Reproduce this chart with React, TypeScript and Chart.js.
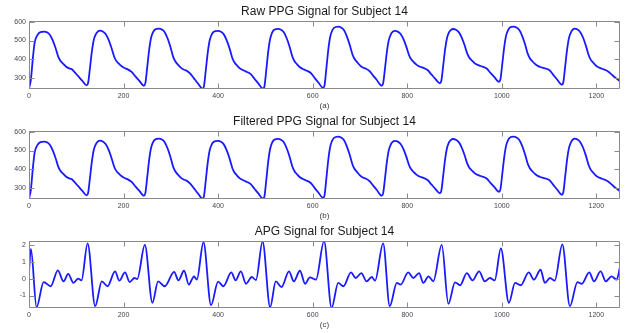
import React, { useEffect, useRef } from "react";
import { Chart, registerables } from "chart.js";

Chart.register(...registerables);

// ---------- data ----------
const ppgX = [
  0, 4, 8, 12, 18, 24, 32,
  38, 44, 50, 56, 62, 66, 72, 78, 84, 90, 96, 104, 112,
  122, 125, 129, 133, 137, 141, 145, 150,
  156, 162, 168, 174, 180, 184, 190, 196, 202, 208, 217, 225, 233,
  243, 246, 250, 254, 258, 262, 266, 275,
  281, 287, 293, 299, 305, 309, 315, 321, 327, 333, 341, 349, 357,
  367, 370, 374, 378, 382, 386, 390, 400,
  406, 412, 418, 424, 430, 434, 440, 446, 452, 458, 469, 477, 485,
  495, 498, 502, 506, 510, 514, 518, 527,
  533, 539, 545, 551, 557, 561, 567, 573, 579, 585, 596, 604, 612,
  622, 625, 629, 633, 637, 641, 645, 654,
  660, 666, 672, 678, 684, 688, 694, 700, 706, 712, 720, 728, 736,
  746, 749, 753, 757, 761, 765, 769, 774,
  780, 786, 792, 798, 804, 808, 814, 820, 826, 832, 843, 851, 859,
  869, 872, 876, 880, 884, 888, 892, 897,
  903, 909, 915, 921, 927, 931, 937, 943, 949, 955, 968, 976, 984,
  994, 997, 1001, 1005, 1009, 1013, 1017, 1025,
  1031, 1037, 1043, 1049, 1055, 1059, 1065, 1071, 1077, 1083, 1101, 1109, 1117,
  1127, 1130, 1134, 1138, 1142, 1146, 1150, 1154,
  1160, 1166, 1172, 1178, 1184, 1188, 1194, 1200, 1206, 1212, 1224, 1232, 1240, 1250,
];

const rawPpgY = [
  240, 290, 400, 490, 530, 545, 548,
  544, 531, 502, 461, 412, 392, 375, 360, 351, 346, 331, 308, 285,
  259, 271, 353, 441, 503, 532, 547, 553,
  549, 535, 506, 464, 414, 393, 375, 361, 352, 346, 331, 307, 284,
  257, 269, 355, 447, 512, 543, 558, 564,
  559, 545, 512, 467, 412, 390, 370, 354, 344, 338, 322, 296, 270,
  241, 253, 341, 434, 499, 530, 546, 552,
  547, 533, 502, 459, 406, 384, 365, 350, 341, 334, 319, 294, 269,
  241, 254, 344, 441, 508, 541, 557, 563,
  558, 544, 512, 468, 414, 391, 372, 356, 347, 340, 325, 299, 274,
  245, 258, 351, 450, 519, 552, 568, 575,
  570, 556, 524, 480, 426, 403, 384, 366, 355, 349, 336, 311, 286,
  257, 269, 351, 440, 502, 531, 546, 552,
  548, 535, 507, 467, 420, 400, 383, 369, 360, 355, 341, 318, 295,
  270, 282, 363, 451, 512, 542, 556, 562,
  558, 545, 517, 477, 429, 409, 392, 377, 369, 363, 349, 326, 304,
  278, 290, 373, 462, 525, 554, 569, 575,
  570, 556, 525, 481, 428, 406, 387, 372, 362, 356, 340, 315, 290,
  262, 274, 359, 449, 513, 543, 558, 564,
  559, 545, 515, 471, 419, 397, 379, 363, 354, 348, 335, 318, 300, 281,
];

const filteredPpgY = [
  240, 290, 400, 490, 530, 545, 548,
  544, 531, 502, 461, 412, 392, 375, 360, 351, 346, 331, 308, 285,
  259, 271, 353, 441, 503, 532, 547, 553,
  549, 535, 506, 464, 414, 393, 375, 361, 352, 346, 331, 307, 284,
  257, 269, 355, 447, 512, 543, 558, 564,
  559, 545, 512, 467, 412, 390, 370, 354, 344, 338, 322, 296, 270,
  241, 253, 341, 434, 499, 530, 546, 552,
  547, 533, 502, 459, 406, 384, 365, 350, 341, 334, 319, 294, 269,
  241, 254, 344, 441, 508, 541, 557, 563,
  558, 544, 512, 468, 414, 391, 372, 356, 347, 340, 325, 299, 274,
  245, 258, 351, 450, 519, 552, 568, 575,
  570, 556, 524, 480, 426, 403, 384, 366, 355, 349, 336, 311, 286,
  257, 269, 351, 440, 502, 531, 546, 552,
  548, 535, 507, 467, 420, 400, 383, 369, 360, 355, 341, 318, 295,
  270, 282, 363, 451, 512, 542, 556, 562,
  558, 545, 517, 477, 429, 409, 392, 377, 369, 363, 349, 326, 304,
  278, 290, 373, 462, 525, 554, 569, 575,
  570, 556, 525, 481, 428, 406, 387, 372, 362, 356, 340, 315, 290,
  262, 274, 359, 449, 513, 543, 558, 564,
  559, 545, 515, 471, 419, 397, 379, 363, 354, 348, 335, 318, 300, 281,
];

const apgX = [
  0, 4, 16, 31, 46, 61, 73, 83, 94, 104, 111,
  124, 140, 154, 166, 182, 191, 203, 213, 223, 229,
  245, 261, 273, 287, 307, 316, 328, 338, 349, 355,
  369, 385, 400, 411, 428, 437, 448, 459, 471, 480,
  494, 510, 522, 534, 550, 560, 573, 584, 594, 607,
  624, 640, 654, 665, 681, 691, 703, 714, 725, 732,
  749, 763, 778, 786, 802, 813, 825, 834, 845, 855,
  873, 887, 901, 912, 926, 938, 952, 964, 975, 985,
  998, 1015, 1028, 1040, 1057, 1068, 1082, 1091, 1102, 1112,
  1128, 1144, 1160, 1169, 1185, 1195, 1209, 1220, 1232, 1243, 1250,
];

const apgY = [
  0.4, 1.76, -1.69, -0.2, -0.45, 0.49, -0.16, 0.29, -0.25, 0.0, -0.1,
  2.1, -1.63, -0.16, -0.45, 0.43, -0.12, 0.37, -0.2, 0.04, -0.02,
  2.0, -1.43, -0.16, -0.45, 0.4, -0.1, 0.47, -0.35, 0.14, -0.06,
  2.16, -1.57, -0.17, -0.45, 0.37, -0.1, 0.43, -0.3, 0.1, -0.08,
  2.2, -1.69, -0.16, -0.5, 0.43, -0.16, 0.47, -0.3, 0.08, -0.06,
  2.23, -1.73, -0.25, -0.45, 0.37, 0.04, 0.33, -0.16, 0.1, -0.12,
  2.1, -1.63, -0.25, -0.35, 0.37, 0.04, 0.33, -0.25, 0.14, -0.16,
  2.0, -1.49, -0.22, -0.39, 0.33, -0.1, 0.43, -0.16, 0.04, -0.1,
  1.8, -1.43, -0.25, -0.39, 0.37, -0.06, 0.53, -0.25, 0.04, -0.12,
  2.04, -1.63, -0.2, -0.31, 0.37, -0.16, 0.43, -0.16, 0.14, -0.06, 0.7,
];

const xTicks = [0, 200, 400, 600, 800, 1000, 1200];
const ppgTicks = [300, 400, 500, 600];
const apgTicks = [-1, 0, 1, 2];

const titles = [
  "Raw PPG Signal for Subject 14",
  "Filtered PPG Signal for Subject 14",
  "APG Signal for Subject 14",
];
const captions = ["(a)", "(b)", "(c)"];

// ---------- styling ----------
const FONT = "'Liberation Sans', Arial, Helvetica, sans-serif";
const LINE_COLOR = "#1a1aff";
const BOX_COLOR = "#8a8a8a";
const TICK_TEXT = "#45454f";

const boxPlugin = {
  id: "matlabBox",
  afterDatasetsDraw(chart: any) {
    const { ctx, chartArea: a, scales } = chart;
    const L = Math.round(a.left) + 0.5;
    const R = Math.round(a.right) - 0.5;
    const T = Math.round(a.top) + 0.5;
    const B = Math.round(a.bottom) - 0.5;
    ctx.save();
    ctx.strokeStyle = BOX_COLOR;
    ctx.lineWidth = 1;
    ctx.beginPath();
    ctx.rect(L, T, R - L, B - T);
    const tl = 5;
    scales.x.ticks.forEach((t: any) => {
      const px = Math.round(scales.x.getPixelForValue(t.value)) + 0.5;
      ctx.moveTo(px, B);
      ctx.lineTo(px, B - tl);
      ctx.moveTo(px, T);
      ctx.lineTo(px, T + tl);
    });
    scales.y.ticks.forEach((t: any) => {
      const py = Math.round(scales.y.getPixelForValue(t.value)) + 0.5;
      ctx.moveTo(L, py);
      ctx.lineTo(L + tl, py);
      ctx.moveTo(R, py);
      ctx.lineTo(R - tl, py);
    });
    ctx.stroke();
    ctx.restore();
  },
};

type PanelProps = {
  xs: number[];
  ys: number[];
  yMin: number;
  yMax: number;
  yTicks: number[];
  top: number;
  height: number;
  padBottom: number;
};

function Panel({ xs, ys, yMin, yMax, yTicks, top, height, padBottom }: PanelProps) {
  const ref = useRef<HTMLCanvasElement | null>(null);
  useEffect(() => {
    if (!ref.current) return;
    const points = xs.map((x, i) => ({ x, y: ys[i] }));
    const chart = new Chart(ref.current, {
      type: "line",
      data: {
        datasets: [
          {
            data: points,
            borderColor: LINE_COLOR,
            borderWidth: 1.8,
            pointRadius: 0,
            fill: false,
            cubicInterpolationMode: "monotone",
          },
        ],
      },
      options: {
        responsive: false,
        maintainAspectRatio: false,
        animation: false,
        events: [],
        layout: { padding: { top: 21, left: 0, right: 9, bottom: padBottom } },
        plugins: {
          legend: { display: false },
          title: { display: false },
          tooltip: { enabled: false },
        },
        scales: {
          x: {
            type: "linear",
            min: 0,
            max: 1250,
            grid: { display: false, drawTicks: false, tickLength: 0 },
            border: { display: false },
            afterBuildTicks: (s: any) => {
              s.ticks = xTicks.map((v) => ({ value: v }));
            },
            afterFit: (s: any) => {
              s.height = 21;
            },
            ticks: {
              autoSkip: false,
              maxRotation: 0,
              padding: 3,
              color: TICK_TEXT,
              font: { family: FONT, size: 7 },
              callback: (v: any) => String(v),
            },
          },
          y: {
            type: "linear",
            min: yMin,
            max: yMax,
            grid: { display: false, drawTicks: false, tickLength: 0 },
            border: { display: false },
            afterBuildTicks: (s: any) => {
              s.ticks = yTicks.map((v) => ({ value: v }));
            },
            afterFit: (s: any) => {
              s.width = 29;
            },
            ticks: {
              autoSkip: false,
              padding: 3,
              color: TICK_TEXT,
              font: { family: FONT, size: 7 },
              callback: (v: any) => String(v),
            },
          },
        },
      },
      plugins: [boxPlugin],
    } as any);
    return () => chart.destroy();
  }, []);
  return (
    <canvas
      ref={ref}
      width={629}
      height={height}
      style={{ position: "absolute", left: 0, top, width: 629, height }}
    />
  );
}

export default function App() {
  const titleTops = [4.5, 114.5, 224.5];
  const captionTops = [101.5, 211.5, 321];
  return (
    <div
      style={{
        position: "fixed",
        left: 0,
        top: 0,
        width: 629,
        height: 333,
        background: "#ffffff",
        overflow: "hidden",
      }}
    >
      <Panel xs={ppgX} ys={rawPpgY} yMin={239} yMax={605} yTicks={ppgTicks} top={0} height={110} padBottom={0} />
      <Panel xs={ppgX} ys={filteredPpgY} yMin={239} yMax={605} yTicks={ppgTicks} top={110} height={110} padBottom={0} />
      <Panel xs={apgX} ys={apgY} yMin={-1.74} yMax={2.235} yTicks={apgTicks} top={220} height={113} padBottom={4} />
      {titles.map((t, i) => (
        <div
          key={t}
          style={{
            position: "absolute",
            left: 29,
            width: 591,
            top: titleTops[i],
            textAlign: "center",
            fontFamily: FONT,
            fontSize: 12,
            lineHeight: "12px",
            color: "#1a1a1a",
            whiteSpace: "nowrap",
          }}
        >
          {t}
        </div>
      ))}
      {captions.map((c, i) => (
        <div
          key={c}
          style={{
            position: "absolute",
            left: 29,
            width: 591,
            top: captionTops[i],
            textAlign: "center",
            fontFamily: FONT,
            fontSize: 8,
            lineHeight: "8px",
            color: "#3a3a4a",
            whiteSpace: "nowrap",
          }}
        >
          {c}
        </div>
      ))}
    </div>
  );
}
